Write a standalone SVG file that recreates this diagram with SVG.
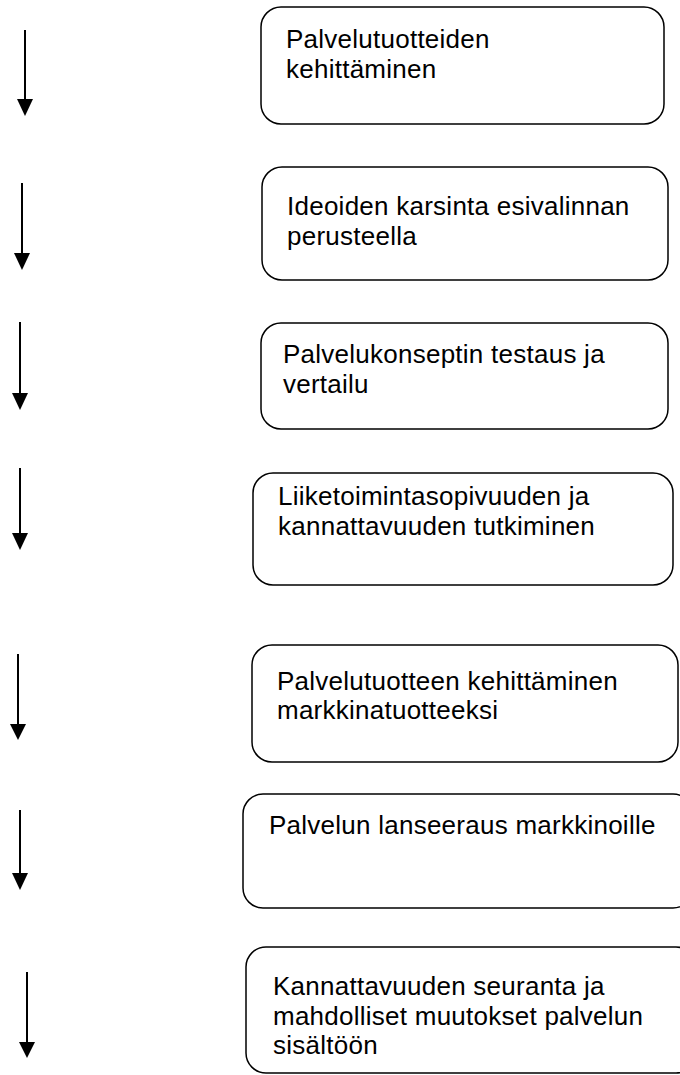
<svg xmlns="http://www.w3.org/2000/svg" width="680" height="1075" viewBox="0 0 680 1075">
  <style>
    .box { fill: #ffffff; stroke: #000000; stroke-width: 1.5; }
    .lbl { font-family: "Liberation Sans", Arial, sans-serif; font-size: 26px; letter-spacing: 0.25px; fill: #000000; }
    .flow { stroke: #000000; stroke-width: 2; fill: none; }
    .head { fill: #000000; }
  </style>
  <rect width="680" height="1075" fill="#ffffff"/>

  <g id="step1">
    <rect class="box" x="261" y="7" width="403" height="117" rx="20"/>
    <text class="lbl" x="286" y="48">Palvelutuotteiden</text>
    <text class="lbl" x="286" y="78">kehittäminen</text>
  </g>
  <g id="step2">
    <rect class="box" x="262" y="167" width="406" height="113" rx="20"/>
    <text class="lbl" x="287" y="215">Ideoiden karsinta esivalinnan</text>
    <text class="lbl" x="287" y="245">perusteella</text>
  </g>
  <g id="step3">
    <rect class="box" x="261" y="323" width="407" height="106" rx="20"/>
    <text class="lbl" x="283" y="363">Palvelukonseptin testaus ja</text>
    <text class="lbl" x="283" y="393">vertailu</text>
  </g>
  <g id="step4">
    <rect class="box" x="253" y="473" width="420" height="112" rx="20"/>
    <text class="lbl" x="278" y="505">Liiketoimintasopivuuden ja</text>
    <text class="lbl" x="278" y="535">kannattavuuden tutkiminen</text>
  </g>
  <g id="step5">
    <rect class="box" x="252" y="645" width="426" height="117" rx="20"/>
    <text class="lbl" x="277" y="690">Palvelutuotteen kehittäminen</text>
    <text class="lbl" x="277" y="719">markkinatuotteeksi</text>
  </g>
  <g id="step6">
    <rect class="box" x="243" y="794" width="450" height="114" rx="20"/>
    <text class="lbl" x="269" y="834">Palvelun lanseeraus markkinoille</text>
  </g>
  <g id="step7">
    <rect class="box" x="246" y="947" width="450" height="126" rx="20"/>
    <text class="lbl" x="273" y="995">Kannattavuuden seuranta ja</text>
    <text class="lbl" x="273" y="1025">mahdolliset muutokset palvelun</text>
    <text class="lbl" x="273" y="1054">sisältöön</text>
  </g>

  <g id="connectors">
    <line class="flow" x1="25" y1="30" x2="25" y2="102"/>
    <polygon class="head" points="17,99 33,99 25,116"/>
    <line class="flow" x1="22" y1="183" x2="22" y2="256"/>
    <polygon class="head" points="14,253 30,253 22,270"/>
    <line class="flow" x1="20" y1="322" x2="20" y2="396"/>
    <polygon class="head" points="12,393 28,393 20,410"/>
    <line class="flow" x1="20" y1="468" x2="20" y2="536"/>
    <polygon class="head" points="12,533 28,533 20,550"/>
    <line class="flow" x1="18" y1="654" x2="18" y2="727"/>
    <polygon class="head" points="10,724 26,724 18,740"/>
    <line class="flow" x1="20" y1="810" x2="20" y2="876"/>
    <polygon class="head" points="12,873 28,873 20,890"/>
    <line class="flow" x1="27" y1="972" x2="27" y2="1045"/>
    <polygon class="head" points="19,1042 35,1042 27,1058"/>
  </g>
</svg>
